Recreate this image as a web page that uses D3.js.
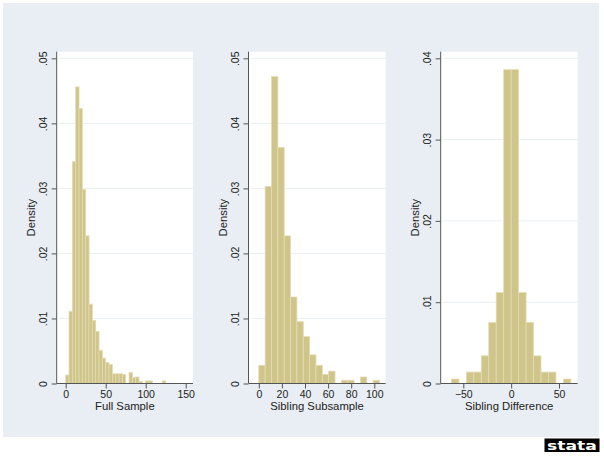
<!DOCTYPE html>
<html>
<head>
<meta charset="utf-8">
<script src="https://cdn.jsdelivr.net/npm/d3@7"></script>
<style>
  html, body { margin: 0; padding: 0; background: #ffffff; }
  svg { display: block; }
  text { font-family: "Liberation Sans", Arial, Helvetica, sans-serif; fill: #222; }
</style>
</head>
<body>
<svg id="chart" width="604" height="461"></svg>
<script>
// ---------------- Data ----------------
// Full Sample histogram: 30 bins of equal width starting at 0
const fullBinStart = 0;
const fullBinWidth = 125 / 30;
const fullDensity = [0.0013, 0.0111, 0.0341, 0.0456, 0.0423, 0.0298, 0.0227, 0.0122,
  0.0097, 0.0080, 0.0051, 0.0039, 0.0032, 0.0029, 0.0015, 0.0015, 0.0015, 0.0014,
  0, 0.0017, 0.0009, 0.0010, 0.0003, 0, 0.0004, 0.0004, 0, 0, 0, 0.0004];

// Sibling Subsample histogram: 19 bins
const sibBinStart = 0;
const sibBinWidth = 5.5;
const sibDensity = [0.0028, 0.0303, 0.0472, 0.0363, 0.0227, 0.0133, 0.0095, 0.0072,
  0.0044, 0.0028, 0.0014, 0.0019, 0, 0.0005, 0.0005, 0, 0.0010, 0, 0.0005];

// Sibling Difference histogram: 16 bins, symmetric around 0
const diffBinStart = -62.4;
const diffBinWidth = 7.8;
const diffDensity = [0.00055, 0, 0.0014, 0.0014, 0.0034, 0.0075, 0.0112, 0.0386,
  0.0386, 0.0112, 0.0075, 0.0034, 0.0014, 0.0014, 0, 0.00055];

const xTitles = ["Full Sample", "Sibling Subsample", "Sibling Difference"];
const yTitle = "Density";
const xTicksFull = [0, 50, 100, 150];
const xTicksSib = [0, 20, 40, 60, 80, 100];
const xTicksDiff = [-50, 0, 50];
const yTicksA = [0, 0.01, 0.02, 0.03, 0.04, 0.05];
const yTicksB = [0, 0.01, 0.02, 0.03, 0.04];

// ---------------- Layout / style ----------------
const svg = d3.select("#chart");
const BG = "#e8eef3";
const BAR_FILL = "#cfc48a";
const BAR_STROKE = "#e4dcb3";
const AXIS = "#555";
const GRID = "#e9eff3";

svg.append("rect").attr("x", 3).attr("y", 3).attr("width", 596).attr("height", 434).attr("fill", BG);

const panels = [
  { density: fullDensity, start: fullBinStart, width: fullBinWidth, title: xTitles[0],
    plotX: [56.7, 193], xDomain: [0, 150], xRange: [65.7, 185.7], xTicks: xTicksFull,
    yDomain: [0, 0.05], yTicks: yTicksA },
  { density: sibDensity, start: sibBinStart, width: sibBinWidth, title: xTitles[1],
    plotX: [248.5, 385.7], xDomain: [0, 100], xRange: [258.8, 374.3], xTicks: xTicksSib,
    yDomain: [0, 0.05], yTicks: yTicksA },
  { density: diffDensity, start: diffBinStart, width: diffBinWidth, title: xTitles[2],
    plotX: [440.7, 577.7], xDomain: [-50, 50], xRange: [463.3, 559], xTicks: xTicksDiff,
    yDomain: [0, 0.04], yTicks: yTicksB }
];

const plotTop = 51.7, yZero = 383.5, yTopTick = 58.3;
const fmtY = v => v === 0 ? "0" : d3.format(".2f")(v).replace(/^0/, "");
const fmtX = v => v < 0 ? "\u2212" + Math.abs(v) : String(v);

panels.forEach(p => {
  const x = d3.scaleLinear().domain(p.xDomain).range(p.xRange);
  const y = d3.scaleLinear().domain(p.yDomain).range([yZero, yTopTick]);
  const g = svg.append("g");
  const left = p.plotX[0], right = p.plotX[1];

  // plot region
  g.append("rect").attr("x", left).attr("y", plotTop)
    .attr("width", right - left).attr("height", yZero - plotTop).attr("fill", "#ffffff");

  // grid lines
  g.selectAll("line.grid").data(p.yTicks.filter(t => t > 0)).join("line")
    .attr("class", "grid")
    .attr("x1", left + 2).attr("x2", right)
    .attr("y1", d => y(d)).attr("y2", d => y(d))
    .attr("stroke", GRID).attr("stroke-width", 1);

  // bars
  const bins = p.density.map((d, i) => ({ x0: p.start + i * p.width, x1: p.start + (i + 1) * p.width, d }))
    .filter(b => b.d > 0);
  g.selectAll("rect.bar").data(bins).join("rect")
    .attr("class", "bar")
    .attr("x", b => x(b.x0)).attr("width", b => x(b.x1) - x(b.x0))
    .attr("y", b => y(b.d)).attr("height", b => y(0) - y(b.d))
    .attr("fill", BAR_FILL).attr("stroke", BAR_STROKE).attr("stroke-width", 0.8);

  // y axis
  const ya = g.append("g").attr("transform", `translate(${left},0)`)
    .call(d3.axisLeft(y).tickValues(p.yTicks).tickFormat(fmtY).tickSizeOuter(0).tickSize(5));
  ya.select(".domain").remove();
  ya.append("line").attr("x1", 0).attr("x2", 0).attr("y1", plotTop).attr("y2", yZero)
    .attr("stroke", AXIS).attr("stroke-width", 1);
  ya.selectAll(".tick line").attr("stroke", AXIS);
  ya.selectAll(".tick text")
    .attr("x", 0).attr("y", -9.3).attr("dy", 0)
    .attr("transform", "rotate(-90)")
    .attr("text-anchor", "middle")
    .style("font-size", "10.5px").style("font-family", "'Liberation Sans', Arial, sans-serif")
    .attr("fill", "#222");

  // x axis
  const xa = g.append("g").attr("transform", `translate(0,${yZero})`)
    .call(d3.axisBottom(x).tickValues(p.xTicks).tickFormat(fmtX).tickSizeOuter(0).tickSize(5));
  xa.select(".domain").remove();
  xa.append("line").attr("x1", left).attr("x2", right).attr("y1", 0).attr("y2", 0)
    .attr("stroke", AXIS).attr("stroke-width", 1);
  xa.selectAll(".tick line").attr("stroke", AXIS);
  xa.selectAll(".tick text").attr("y", 14).attr("dy", 0)
    .style("font-size", "10.5px").style("font-family", "'Liberation Sans', Arial, sans-serif")
    .attr("fill", "#222");

  // titles
  g.append("text").attr("x", (left + right) / 2).attr("y", 410)
    .attr("text-anchor", "middle").style("font-size", "11.3px").text(p.title);
  g.append("text")
    .attr("transform", `translate(${left - 22},${(plotTop + yZero) / 2}) rotate(-90)`)
    .attr("text-anchor", "middle").style("font-size", "11.3px").text(yTitle);
});

// Stata logo
const logo = svg.append("g");
logo.append("rect").attr("x", 544.5).attr("y", 438.5).attr("width", 55).attr("height", 13.5)
  .attr("fill", "#000");
logo.append("text").attr("x", 547).attr("y", 450)
  .attr("textLength", 50).attr("lengthAdjust", "spacingAndGlyphs")
  .style("font-family", "'DejaVu Sans', sans-serif").style("font-weight", "bold")
  .style("font-size", "13px").style("fill", "#fff").text("stata");
</script>
</body>
</html>
